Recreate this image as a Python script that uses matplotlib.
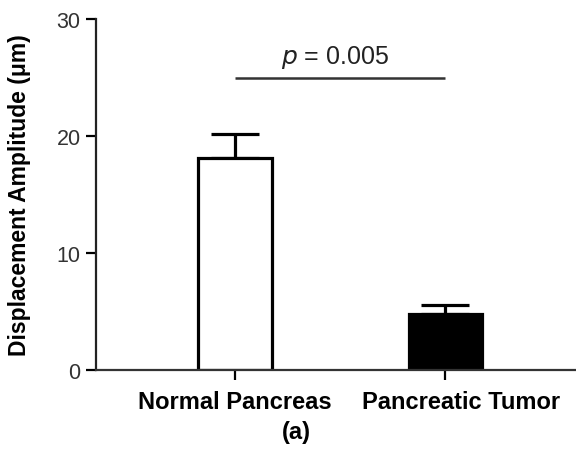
import matplotlib
matplotlib.use("Agg")
from matplotlib import pyplot as plt
from matplotlib.transforms import ScaledTranslation

groups = ["Normal Pancreas", "Pancreatic Tumor"]
means = [18.1, 4.8]
errors = [2.1, 0.75]
fills = ["white", "black"]
p_height = 25.0

plt.rcParams['font.family'] = ['Liberation Sans', 'DejaVu Sans']

fig = plt.figure(figsize=(5.76, 4.56), dpi=100)
ax = fig.add_axes([96 / 576, 85 / 456, 1 - 96 / 576, 351 / 456])

x = list(range(len(groups)))
ax.bar(x, means, width=0.35, color=fills, edgecolor="black", linewidth=2.3, zorder=2)
ax.errorbar(x, means, yerr=[[0] * len(errors), errors], fmt="none",
            ecolor="black", elinewidth=2.3, capsize=17, capthick=2.3, zorder=1)

# significance bar
ax.plot([x[0], x[1]], [p_height, p_height], color="#333333", lw=1.8, solid_capstyle="butt")
ax.text((x[0] + x[1]) / 2 - 0.025, p_height + 0.6, "$\\it{p}$ = 0.005", ha="center", va="bottom",
        fontsize=18, color="#222222")

ax.set_xlim(-0.66, 1.62)
ax.set_ylim(0, 30)
ax.set_yticks([0, 10, 20, 30])
ax.set_xticks(x)
ax.set_xticklabels([])

# group labels drawn by hand, the second one sits a bit right of its tick
shifts = [0.0, 0.075]
below = ax.get_xaxis_transform() + ScaledTranslation(0, -0.2, fig.dpi_scale_trans)
for xi, name, dx in zip(x, groups, shifts):
    ax.text(xi + dx, 0, name, transform=below, ha="center", va="top",
            fontsize=17, fontweight="bold")

ax.tick_params(axis="y", labelsize=15.5, labelcolor="#333333", length=7, width=1.6, pad=4)
ax.tick_params(axis="x", length=7, width=1.6)
ax.set_ylabel("Displacement Amplitude (μm)", fontsize=16.5, fontweight="bold")
ax.yaxis.set_label_coords(-0.135, 0.5)

ax.spines['top'].set_visible(False)
ax.spines['right'].set_visible(False)
ax.spines['left'].set_linewidth(1.6)
ax.spines['bottom'].set_linewidth(1.6)
ax.spines['left'].set_color("#222222")
ax.spines['bottom'].set_color("#333333")

fig.text(296 / 576, 1 - 433 / 456, "(a)", ha="center", va="center", fontsize=17, fontweight="bold")

fig.savefig("out.png", dpi=100)
